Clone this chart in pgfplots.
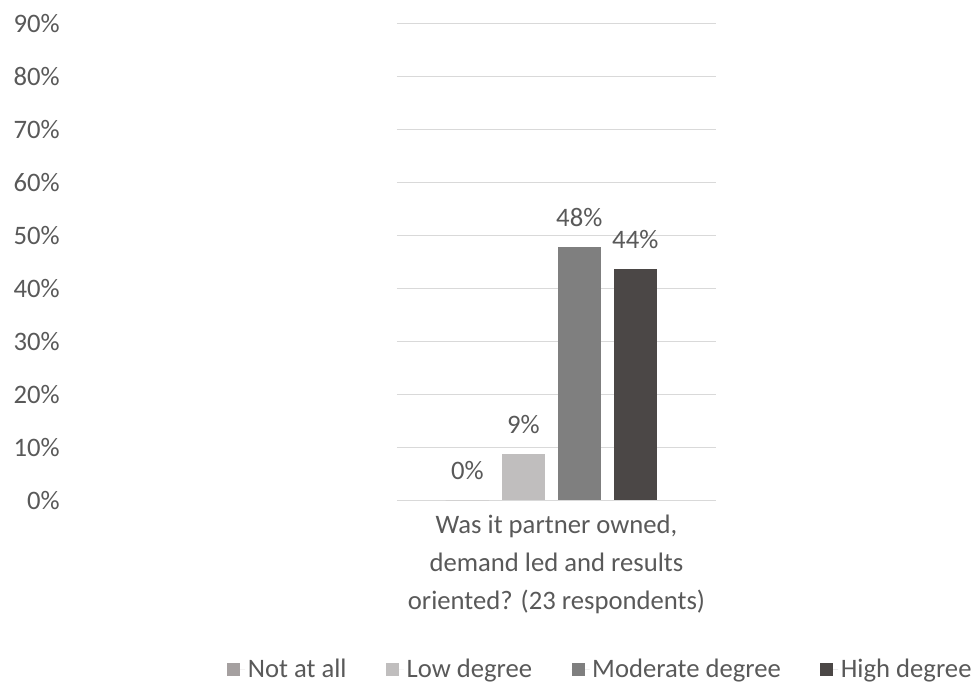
\documentclass[border=0pt]{standalone}
\usepackage{pgfplots}
\pgfplotsset{compat=1.18}
\usepackage{fontspec}
\setmainfont{Carlito}
\definecolor{txt}{HTML}{595959}
\definecolor{gridc}{HTML}{D9D9D9}
\definecolor{cA}{HTML}{A5A0A0}
\definecolor{cB}{HTML}{C0BEBE}
\definecolor{cC}{HTML}{7F7F7F}
\definecolor{cD}{HTML}{4B4746}
\begin{document}
\begin{tikzpicture}[font=\fontsize{20}{28.5}\selectfont]
\begin{axis}[
  at={(0,0)}, anchor=south west,
  scale only axis, width=239.25pt, height=357.75pt,
  xmin=-154.3, xmax=164.7, ymin=0, ymax=90,
  axis line style={draw=none},
  ytick={0,10,...,90},
  yticklabels={0\%,10\%,20\%,30\%,40\%,50\%,60\%,70\%,80\%,90\%},
  ymajorgrids, grid style={gridc, line width=1.1pt},
  major tick length=0pt,
  yticklabel style={anchor=east, inner sep=0pt, xshift=-252.75pt, text=txt},
  xtick=\empty,
  xlabel={Was it partner owned,\\demand led and results\\oriented? (23 respondents)},
  xlabel style={align=center, text=txt, at={(rel axis cs:0.5,0)}, anchor=north, inner sep=0pt, yshift=-11pt},
  ybar=9.4pt, bar width=32.6pt,
  /pgf/number format/assume math mode=true,
  nodes near coords={\pgfmathprintnumber[fixed,precision=0]{\pgfplotspointmeta}\%},
  nodes near coords style={text=txt, anchor=center, yshift=22pt},
  legend columns=4,
  legend style={draw=none, fill=none, inner sep=0pt, at={(-0.533,-0.354)}, anchor=west, text=txt,
    font=\fontsize{20}{22}\selectfont,
    /tikz/every even column/.append style={column sep=27.5pt},
    /tikz/every odd column/.append style={column sep=0pt}},
  legend image code/.code={\fill[#1] (0pt,-4.9pt) rectangle (9.75pt,4.9pt); \path (0pt,0pt) -- (13.5pt,0pt);},
  clip=false,
]
\addplot[fill=cA, draw=none] coordinates {(0,0)};
\addplot[fill=cB, draw=none] coordinates {(0,8.7)};
\addplot[fill=cC, draw=none] coordinates {(0,47.8)};
\addplot[fill=cD, draw=none] coordinates {(0,43.7)};
\legend{Not at all, Low degree, Moderate degree, High degree}
\end{axis}
\pgfresetboundingbox
\path (-297.75pt,-139.5pt) rectangle (431.25pt,375.25pt);
\end{tikzpicture}
\end{document}
